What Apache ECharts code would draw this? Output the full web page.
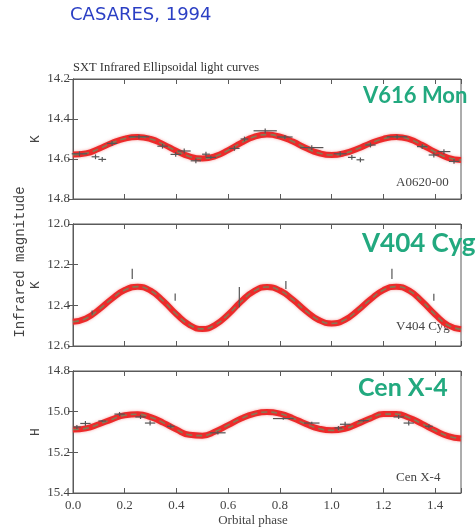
<!DOCTYPE html>
<html>
<head>
<meta charset="utf-8">
<script src="https://cdn.jsdelivr.net/npm/echarts@6/dist/echarts.min.js"></script>
<style>
  html, body { margin: 0; padding: 0; background: #ffffff; }
  #container { width: 476px; height: 530px; }
</style>
</head>
<body>
<div id="container"></div>
<script>
// orbital phase of the model curves (read every 0.05)
var phase = [0.00, 0.05, 0.10, 0.15, 0.20, 0.25, 0.30, 0.35, 0.40, 0.45,
             0.50, 0.55, 0.60, 0.65, 0.70, 0.75, 0.80, 0.85, 0.90, 0.95,
             1.00, 1.05, 1.10, 1.15, 1.20, 1.25, 1.30, 1.35, 1.40, 1.45, 1.50];

// model curves (magnitudes)
var monCurve = [14.578, 14.572, 14.549, 14.520, 14.498, 14.490, 14.500, 14.527, 14.560, 14.587,
                14.597, 14.586, 14.556, 14.519, 14.489, 14.478, 14.488, 14.513, 14.545, 14.570,
                14.580, 14.571, 14.549, 14.521, 14.499, 14.490, 14.501, 14.530, 14.565, 14.594, 14.605];
var cygCurve = [12.481, 12.465, 12.421, 12.368, 12.325, 12.308, 12.328, 12.380, 12.444, 12.496,
                12.516, 12.496, 12.445, 12.381, 12.330, 12.310, 12.327, 12.372, 12.427, 12.472,
                12.489, 12.472, 12.426, 12.371, 12.325, 12.308, 12.328, 12.381, 12.445, 12.498, 12.518];
var cenCurve = [15.088, 15.082, 15.062, 15.038, 15.018, 15.013, 15.027, 15.055, 15.088, 15.114,
                15.118, 15.098, 15.066, 15.034, 15.011, 15.002, 15.010, 15.032, 15.060, 15.083,
                15.092, 15.084, 15.060, 15.033, 15.012, 15.012, 15.030, 15.060, 15.093, 15.120, 15.132];

// observed points: [phase, mag, phase half-width, mag error]
var monPts = [
  [0.025, 14.574, 0.03, 0.012], [0.087, 14.589, 0.015, 0.012], [0.113, 14.602, 0.015, 0.012],
  [0.151, 14.522, 0.02, 0.012], [0.255, 14.489, 0.04, 0.010], [0.346, 14.536, 0.02, 0.012],
  [0.397, 14.577, 0.02, 0.012], [0.430, 14.560, 0.025, 0.012], [0.475, 14.609, 0.02, 0.012],
  [0.514, 14.576, 0.015, 0.012], [0.533, 14.592, 0.02, 0.008], [0.624, 14.547, 0.02, 0.012],
  [0.663, 14.500, 0.015, 0.012], [0.743, 14.459, 0.045, 0.012], [0.819, 14.490, 0.03, 0.010],
  [0.923, 14.543, 0.045, 0.012], [1.033, 14.574, 0.025, 0.012], [1.078, 14.592, 0.015, 0.012],
  [1.111, 14.604, 0.015, 0.012], [1.150, 14.530, 0.02, 0.012], [1.253, 14.489, 0.04, 0.010],
  [1.350, 14.538, 0.02, 0.012], [1.395, 14.580, 0.02, 0.012], [1.434, 14.563, 0.025, 0.012],
  [1.473, 14.612, 0.02, 0.012]
];
var cygPts = [
  [0.074, 12.435, 0, 0.010], [0.229, 12.245, 0, 0.025], [0.395, 12.360, 0, 0.018],
  [0.643, 12.360, 0, 0.050], [0.823, 12.300, 0, 0.020], [1.233, 12.245, 0, 0.025],
  [1.395, 12.360, 0, 0.017]
];
var cenPts = [
  [0.015, 15.075, 0.015, 0.010], [0.048, 15.058, 0.02, 0.012], [0.113, 15.046, 0.015, 0.005],
  [0.180, 15.012, 0.02, 0.010], [0.261, 15.026, 0.02, 0.010], [0.298, 15.056, 0.02, 0.012],
  [0.378, 15.072, 0.015, 0.010], [0.560, 15.104, 0.03, 0.008], [0.813, 15.034, 0.04, 0.006],
  [0.923, 15.056, 0.03, 0.006], [1.026, 15.080, 0.015, 0.010], [1.052, 15.062, 0.02, 0.012],
  [1.123, 15.044, 0.02, 0.006], [1.259, 15.026, 0.02, 0.010], [1.298, 15.056, 0.02, 0.012],
  [1.376, 15.072, 0.015, 0.010]
];

// axis ranges
var yRanges = [[14.2, 14.8], [12.0, 12.6], [14.8, 15.4]];
var xRange = [0, 1.5];

var chart = echarts.init(document.getElementById('container'));

var gridTops = [79, 224, 371];
var gridHeights = [120, 122, 122];
var frameColor = '#5a5a5a';
var textColor = '#444';
var serif = 'Liberation Serif';

function pairs(ys) {
  var out = [];
  for (var i = 0; i < phase.length; i++) out.push([phase[i], ys[i]]);
  return out;
}

function crossItem(params, api) {
  var x = api.value(0), y = api.value(1), dx = api.value(2), dy = api.value(3);
  var l = api.coord([x - dx, y]), r = api.coord([x + dx, y]);
  var t = api.coord([x, y - dy]), b = api.coord([x, y + dy]);
  var children = [{
    type: 'line', shape: { x1: t[0], y1: t[1], x2: b[0], y2: b[1] },
    style: { stroke: '#555', lineWidth: 1.2 }
  }];
  if (dx > 0) {
    children.push({
      type: 'line', shape: { x1: l[0], y1: l[1], x2: r[0], y2: r[1] },
      style: { stroke: '#555', lineWidth: 1.2 }
    });
  }
  return { type: 'group', children: children };
}

var grids = [], xAxes = [], yAxes = [], series = [];
var curves = [monCurve, cygCurve, cenCurve];
var points = [monPts, cygPts, cenPts];

for (var g = 0; g < 3; g++) {
  grids.push({ left: 73, width: 388, top: gridTops[g], height: gridHeights[g],
    show: true, borderColor: frameColor, borderWidth: 1, backgroundColor: 'transparent' });
  var axLine = { show: true, lineStyle: { color: frameColor, width: 1 } };
  var tick = { show: true, inside: true, length: 5, lineStyle: { color: frameColor } };
  // bottom / top x axes
  xAxes.push({ type: 'value', gridIndex: g, position: 'bottom', min: xRange[0], max: xRange[1],
    interval: 0.2, axisLine: axLine, axisTick: tick, splitLine: { show: false },
    axisLabel: { show: g === 2, color: textColor, fontFamily: serif, fontSize: 13, margin: 6,
      formatter: function (v) { return v > 1.45 ? '' : v.toFixed(1); } } });
  xAxes.push({ type: 'value', gridIndex: g, position: 'top', min: xRange[0], max: xRange[1],
    interval: 0.2, axisLine: axLine, axisTick: tick, splitLine: { show: false },
    axisLabel: { show: false } });
  // left / right y axes
  yAxes.push({ type: 'value', gridIndex: g, position: 'left', inverse: true,
    min: yRanges[g][0], max: yRanges[g][1], interval: 0.2,
    axisLine: axLine, axisTick: tick, splitLine: { show: false },
    axisLabel: { color: textColor, fontFamily: serif, fontSize: 13, margin: 3,
      formatter: function (v) { return v.toFixed(1); } } });
  yAxes.push({ type: 'value', gridIndex: g, position: 'right', inverse: true,
    min: yRanges[g][0], max: yRanges[g][1], interval: 0.2,
    axisLine: axLine, axisTick: tick, splitLine: { show: false }, axisLabel: { show: false } });

  series.push({ type: 'line', xAxisIndex: 2 * g, yAxisIndex: 2 * g, data: pairs(curves[g]),
    smooth: true, showSymbol: false, silent: true, z: 2,
    lineStyle: { color: '#ec2a2a', width: 6, shadowColor: 'rgba(240,60,60,0.5)', shadowBlur: 3 } });
  series.push({ type: 'line', xAxisIndex: 2 * g, yAxisIndex: 2 * g, data: pairs(curves[g]),
    smooth: true, showSymbol: false, silent: true, z: 3,
    lineStyle: { color: '#857a55', width: 1.6, type: [6, 4] } });
  series.push({ type: 'custom', xAxisIndex: 2 * g, yAxisIndex: 2 * g, data: points[g],
    renderItem: crossItem, silent: true, z: 4 });
}

function txt(x, y, s, font, color, extra) {
  var o = { type: 'text', x: x, y: y, style: { text: s, font: font, fill: color } };
  if (extra) for (var k in extra) o.style[k] = extra[k];
  return o;
}

var graphics = [
  txt(70, 6, 'CASARES, 1994', '18px "DejaVu Sans"', '#2b3fc4', { letterSpacing: 0.8 }),
  txt(73, 61, 'SXT Infrared Ellipsoidal light curves', '12.5px "Liberation Serif"', '#333'),
  txt(363, 85, 'V616 Mon', 'bold 22px Lato', '#22a97f'),
  txt(362, 231, 'V404 Cyg', 'bold 26px Lato', '#22a97f'),
  txt(358, 375, 'Cen X-4', 'bold 25px Lato', '#22a97f'),
  txt(396, 176, 'A0620-00', '13px "Liberation Serif"', textColor),
  txt(396, 320, 'V404 Cyg', '13px "Liberation Serif"', textColor),
  txt(396, 471, 'Cen X-4', '13px "Liberation Serif"', textColor),
  txt(253, 514, 'Orbital phase', '13px "Liberation Serif"', textColor, { align: 'center' }),
  { type: 'text', x: 20, y: 262, rotation: Math.PI / 2,
    style: { text: 'Infrared magnitude', font: '14px "Liberation Mono"', fill: textColor,
      align: 'center', verticalAlign: 'middle' } },
  { type: 'text', x: 36, y: 139, rotation: Math.PI / 2,
    style: { text: 'K', font: '13px "Liberation Mono"', fill: textColor, align: 'center', verticalAlign: 'middle' } },
  { type: 'text', x: 36, y: 285, rotation: Math.PI / 2,
    style: { text: 'K', font: '13px "Liberation Mono"', fill: textColor, align: 'center', verticalAlign: 'middle' } },
  { type: 'text', x: 36, y: 432, rotation: Math.PI / 2,
    style: { text: 'H', font: '13px "Liberation Mono"', fill: textColor, align: 'center', verticalAlign: 'middle' } }
];

var option = {
  animation: false,
  backgroundColor: '#ffffff',
  grid: grids,
  xAxis: xAxes,
  yAxis: yAxes,
  series: series,
  graphic: graphics
};
chart.setOption(option);
</script>
</body>
</html>
